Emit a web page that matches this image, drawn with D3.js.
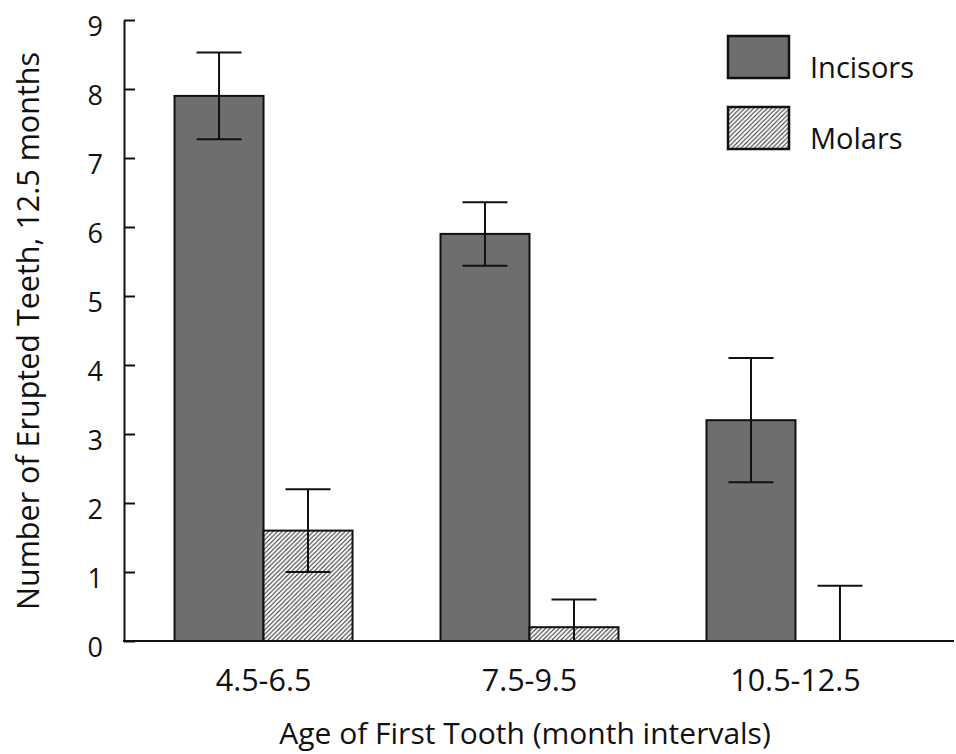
<!DOCTYPE html>
<html>
<head>
<meta charset="utf-8">
<script src="https://cdn.jsdelivr.net/npm/d3@7"></script>
<style>
  html, body { margin: 0; padding: 0; background: #fff; }
  svg { display: block; font-family: "Open Sans", "Noto Sans", sans-serif; }
</style>
</head>
<body>
<svg id="chart" width="956" height="754"></svg>
<script>
// ---- data ----
const categories = ["4.5-6.5", "7.5-9.5", "10.5-12.5"];
const seriesNames = ["Incisors", "Molars"];
const incisors = [7.9, 5.9, 3.2];
const molars = [1.6, 0.2, 0];
const incisorsErr = [0.63, 0.46, 0.9];
const molarsErr = [0.6, 0.4, 0.8];
const yTicks = [0, 1, 2, 3, 4, 5, 6, 7, 8, 9];
const xTitle = "Age of First Tooth (month intervals)";
const yTitle = "Number of Erupted Teeth, 12.5 months";

const rows = categories.map((c, i) => ({
  cat: c,
  vals: [
    { s: "Incisors", v: incisors[i], e: incisorsErr[i] },
    { s: "Molars", v: molars[i], e: molarsErr[i] }
  ]
}));

const svg = d3.select("#chart");
const ink = "#111";

// hatch pattern
const defs = svg.append("defs");
const pat = defs.append("pattern")
  .attr("id", "hatch").attr("patternUnits", "userSpaceOnUse")
  .attr("width", 4.5).attr("height", 4.5);
pat.append("rect").attr("width", 4.5).attr("height", 4.5).attr("fill", "#fff");
pat.append("path")
  .attr("d", "M-1,1 l2,-2 M0,4.5 l4.5,-4.5 M3.5,5.5 l2,-2")
  .attr("stroke", "#333").attr("stroke-width", 1.1);

const fills = { Incisors: "#6e6e6e", Molars: "url(#hatch)" };

// scales
const y = d3.scaleLinear().domain([0, 9]).range([641, 20]);
const x0 = d3.scaleBand().domain(categories).range([124, 935])
  .paddingInner(0.3308).paddingOuter(0.19);
const x1 = d3.scaleBand().domain(seriesNames).range([0, x0.bandwidth()]);

// bars
const groups = svg.append("g").selectAll("g").data(rows).join("g")
  .attr("transform", d => `translate(${x0(d.cat)},0)`);

groups.selectAll("rect").data(d => d.vals.filter(v => v.v > 0)).join("rect")
  .attr("x", d => x1(d.s))
  .attr("y", d => y(d.v))
  .attr("width", x1.bandwidth())
  .attr("height", d => y(0) - y(d.v))
  .attr("fill", d => fills[d.s])
  .attr("stroke", ink).attr("stroke-width", 2);

// error bars
const capW = 45;
const eb = groups.selectAll("g.eb").data(d => d.vals).join("g").attr("class", "eb")
  .attr("transform", d => `translate(${x1(d.s) + x1.bandwidth() / 2},0)`);
eb.append("line")
  .attr("y1", d => y(d.v + d.e)).attr("y2", d => y(Math.max(0, d.v - d.e)))
  .attr("stroke", ink).attr("stroke-width", 2);
eb.append("line")
  .attr("x1", -capW / 2).attr("x2", capW / 2)
  .attr("y1", d => y(d.v + d.e)).attr("y2", d => y(d.v + d.e))
  .attr("stroke", ink).attr("stroke-width", 2);
eb.filter(d => d.v - d.e > 0).append("line")
  .attr("x1", -capW / 2).attr("x2", capW / 2)
  .attr("y1", d => y(d.v - d.e)).attr("y2", d => y(d.v - d.e))
  .attr("stroke", ink).attr("stroke-width", 2);

// y axis
const yAxis = svg.append("g").attr("transform", "translate(124,0)")
  .call(d3.axisLeft(y).tickValues(yTicks).tickFormat(d3.format("d"))
    .tickSizeInner(-11).tickSizeOuter(0).tickPadding(21));
yAxis.select(".domain").attr("stroke", ink).attr("stroke-width", 2);
yAxis.selectAll(".tick line").attr("stroke", ink).attr("stroke-width", 2);
yAxis.selectAll(".tick text")
  .attr("dy", null).attr("y", 15)
  .attr("fill", ink).style("font-size", "27px")
  .style("font-family", "'Open Sans', sans-serif");

// x axis
const xAxis = svg.append("g").attr("transform", "translate(0,641)")
  .call(d3.axisBottom(x0).tickSize(0));
xAxis.select(".domain").remove();
xAxis.selectAll(".tick text")
  .attr("dy", null).attr("y", 50)
  .attr("fill", ink).style("font-size", "30.5px")
  .style("font-family", "'Open Sans', sans-serif");
svg.append("line")
  .attr("x1", 123).attr("x2", 954).attr("y1", y(0)).attr("y2", y(0))
  .attr("stroke", ink).attr("stroke-width", 2);

// titles
svg.append("text").attr("x", 525).attr("y", 744)
  .attr("text-anchor", "middle").attr("fill", ink)
  .style("font-size", "30px").text(xTitle);
svg.append("text")
  .attr("transform", "translate(39,331) rotate(-90)")
  .attr("text-anchor", "middle").attr("fill", ink)
  .style("font-size", "30.5px").text(yTitle);

// legend
const legendY = { Incisors: 36, Molars: 107 };
const leg = svg.append("g").selectAll("g").data(seriesNames).join("g")
  .attr("transform", d => `translate(728,${legendY[d]})`);
leg.append("rect").attr("width", 61).attr("height", 42)
  .attr("fill", d => fills[d]).attr("stroke", ink).attr("stroke-width", 2.5);
leg.append("text").attr("x", 82).attr("y", 41.5)
  .attr("fill", ink).style("font-size", "29px").text(d => d);
</script>
</body>
</html>
